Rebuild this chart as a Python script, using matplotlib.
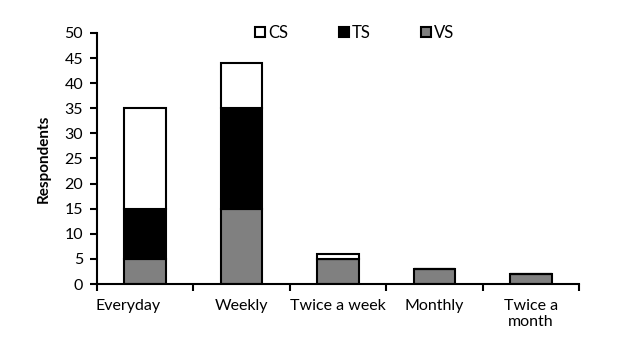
import matplotlib
matplotlib.use('Agg')
import matplotlib.pyplot as plt
import matplotlib.transforms as mtransforms
from matplotlib.patches import Patch
import numpy as np

plt.rcParams['font.family'] = ['Lato', 'DejaVu Sans']

categories = ['Everyday', 'Weekly', 'Twice a week', 'Monthly', 'Twice a\nmonth']
vs = [5, 15, 5, 3, 2]
ts = [10, 20, 0, 0, 0]
cs = [20, 9, 1, 0, 0]

fig = plt.figure(figsize=(6.4, 3.44), dpi=100)
ax = fig.add_axes([0.1516, 0.1744, 0.7531, 0.7297])

x = np.arange(len(categories))
w = 0.43
vs_arr = np.array(vs)
ts_arr = np.array(ts)
cs_arr = np.array(cs)

ax.bar(x, vs_arr, w, color='#808080', edgecolor='black', linewidth=1.5, label='VS')
ax.bar(x, ts_arr, w, bottom=vs_arr, color='black', edgecolor='black', linewidth=1.5, label='TS')
ax.bar(x, cs_arr, w, bottom=vs_arr + ts_arr, color='white', edgecolor='black', linewidth=1.5, label='CS')

ax.set_xlim(-0.5, len(categories) - 0.5)
ax.set_ylim(0, 50)
ax.set_yticks(range(0, 51, 5))

# ticks at category boundaries, labels at centers
ax.set_xticks(np.arange(-0.5, len(categories), 1.0))
ax.set_xticklabels([])
ax.set_xticks(x, minor=True)
ax.set_xticklabels(categories, minor=True, fontsize=11.5)
ax.tick_params(axis='x', which='minor', length=0, pad=11)
ax.tick_params(axis='x', which='major', direction='out', length=5, width=1.5)
ax.tick_params(axis='y', direction='out', length=5, width=1.5, labelsize=11.5, pad=5)

lbls = ax.get_xticklabels(minor=True)
off = mtransforms.ScaledTranslation(-0.5, 0, fig.dpi_scale_trans)
lbls[0].set_horizontalalignment('left')
lbls[0].set_transform(lbls[0].get_transform() + off)

for s in ['top', 'right']:
    ax.spines[s].set_visible(False)
for s in ['left', 'bottom']:
    ax.spines[s].set_linewidth(1.5)

ax.set_ylabel('Respondents', fontsize=11, fontweight='bold', labelpad=10)

handles = [Patch(facecolor='white', edgecolor='black', linewidth=1.5, label='CS'),
           Patch(facecolor='black', edgecolor='black', linewidth=1.5, label='TS'),
           Patch(facecolor='#808080', edgecolor='black', linewidth=1.5, label='VS')]
ax.legend(handles=handles, loc='center', bbox_to_anchor=(0.535, 1.0), ncol=3,
          frameon=False, fontsize=12, handlelength=0.6, handleheight=0.6,
          handletextpad=0.2, columnspacing=3.0)

fig.savefig('out.png', dpi=100)
